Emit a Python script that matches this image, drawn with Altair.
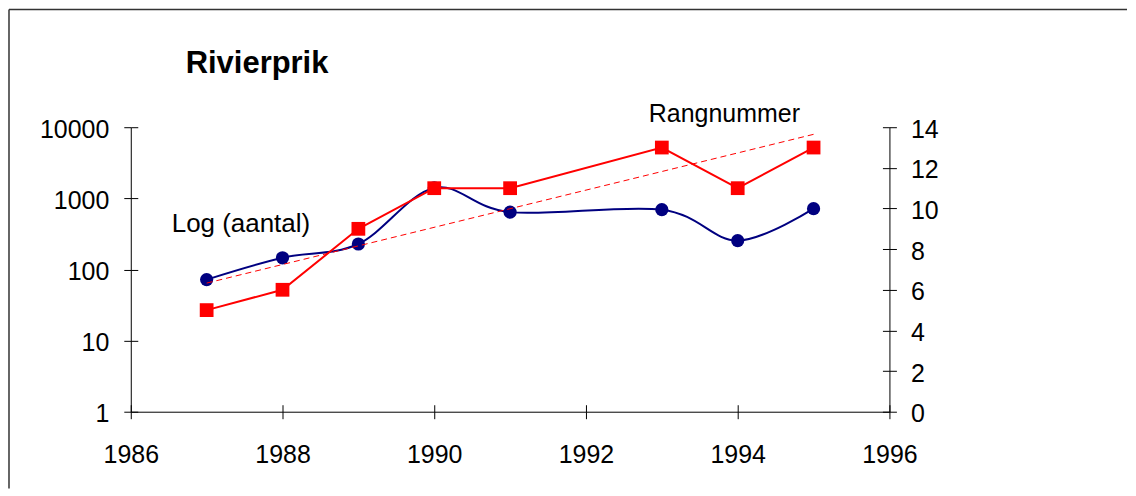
import altair as alt
import pandas as pd

# ---- data ----
years = [1987, 1988, 1989, 1990, 1991, 1993, 1994, 1995]
aantal = [72, 146, 228, 1400, 640, 693, 255, 716]
rang = [5, 6, 9, 11, 11, 13, 11, 13]

x_ticks = [1986, 1988, 1990, 1992, 1994, 1996]
log_ticks = [1, 10, 100, 1000, 10000]
rang_ticks = [0, 2, 4, 6, 8, 10, 12, 14]

title_text = "Rivierprik"
left_label = "Log (aantal)"
right_label = "Rangnummer"

df = pd.DataFrame({"jaar": years, "aantal": aantal, "rang": rang})

W, H = 1120, 480
X_RANGE = [122, 882]
Y_RANGE = [403, 118]
FONT = "Liberation Sans"
BLUE = "#000080"
RED = "#FF0000"

def xs():
    return alt.Scale(domain=[1986, 1996], range=X_RANGE, nice=False, zero=False)

def logs():
    return alt.Scale(type="log", domain=[1, 10000], range=Y_RANGE, nice=False)

def lins():
    return alt.Scale(domain=[0, 14], range=Y_RANGE, nice=False, zero=False)

lab = dict(labelFont=FONT, labelFontSize=25, labelColor="black", labelFlush=False,
           labelOverlap=False, tickColor="black", tickWidth=1, tickSize=7,
           domainColor="black", domainWidth=1, grid=False, title=None)
inner = dict(labels=False, domain=False, grid=False, title=None,
             tickColor="black", tickWidth=1, tickSize=7)

x_axis_main = alt.Axis(orient="bottom", offset=-77, values=x_ticks, format="d",
                       labelPadding=24, **lab)
x_axis_inner = alt.Axis(orient="bottom", offset=-84, values=x_ticks, **inner)
yl_main = alt.Axis(orient="left", offset=-122, values=log_ticks, format="d",
                   labelPadding=15, labelOffset=2, **lab)
yl_inner = alt.Axis(orient="left", offset=-129, values=log_ticks, **inner)
yr_main = alt.Axis(orient="right", offset=-238, values=rang_ticks, format="d",
                   labelPadding=14, labelOffset=2, **lab)
yr_inner = alt.Axis(orient="right", offset=-245, values=rang_ticks, **inner)

base = alt.Chart(df)

blue_line = base.mark_line(interpolate="cardinal", color=BLUE, strokeWidth=2).encode(
    x=alt.X("jaar:Q", scale=xs(), axis=x_axis_main),
    y=alt.Y("aantal:Q", scale=logs(), axis=yl_main),
)
blue_pts = base.mark_point(shape="circle", filled=True, size=175, color=BLUE, opacity=1).encode(
    x=alt.X("jaar:Q", scale=xs(), axis=None),
    y=alt.Y("aantal:Q", scale=logs(), axis=None),
)
red_line = base.mark_line(color=RED, strokeWidth=2).encode(
    x=alt.X("jaar:Q", scale=xs(), axis=None),
    y=alt.Y("rang:Q", scale=lins(), axis=yr_main),
)
red_pts = base.mark_point(shape="square", filled=True, size=190, color=RED, opacity=1).encode(
    x=alt.X("jaar:Q", scale=xs(), axis=None),
    y=alt.Y("rang:Q", scale=lins(), axis=None),
)
trend = base.transform_regression("jaar", "rang").mark_line(
    color=RED, strokeWidth=1, strokeDash=[6, 4]).encode(
    x=alt.X("jaar:Q", scale=xs(), axis=None),
    y=alt.Y("rang:Q", scale=lins(), axis=None),
)
inner_left = base.mark_point(opacity=0).encode(
    x=alt.X("jaar:Q", scale=xs(), axis=x_axis_inner),
    y=alt.Y("aantal:Q", scale=logs(), axis=yl_inner),
)
inner_right = base.mark_point(opacity=0).encode(
    x=alt.X("jaar:Q", scale=xs(), axis=None),
    y=alt.Y("rang:Q", scale=lins(), axis=yr_inner),
)

one = alt.Data(values=[{}])
border_top = alt.Chart(one).mark_rule(color="#333333", strokeWidth=1.5).encode(
    x=alt.value(0), x2=alt.value(W), y=alt.value(0))
border_left = alt.Chart(one).mark_rule(color="#333333", strokeWidth=1.5).encode(
    x=alt.value(0), y=alt.value(0), y2=alt.value(H))

title_mark = alt.Chart(one).mark_text(text=title_text, font=FONT, fontSize=31, fontWeight="bold",
                                      align="left", baseline="alphabetic", color="black").encode(
    x=alt.value(177), y=alt.value(64))
left_mark = alt.Chart(one).mark_text(text=left_label, font=FONT, fontSize=26,
                                     align="left", baseline="alphabetic", color="black").encode(
    x=alt.value(163), y=alt.value(223))
right_mark = alt.Chart(one).mark_text(text=right_label, font=FONT, fontSize=25,
                                      align="left", baseline="alphabetic", color="black").encode(
    x=alt.value(641), y=alt.value(113))

chart = alt.layer(
    inner_left, inner_right,
    blue_line, blue_pts, red_line, red_pts, trend,
    border_top, border_left, title_mark, left_mark, right_mark,
).resolve_scale(
    x="independent", y="independent"
).properties(
    width=W, height=H, padding=0
).configure_view(stroke=None)

chart.save("out.html", embed_options={"renderer": "svg", "actions": False})
